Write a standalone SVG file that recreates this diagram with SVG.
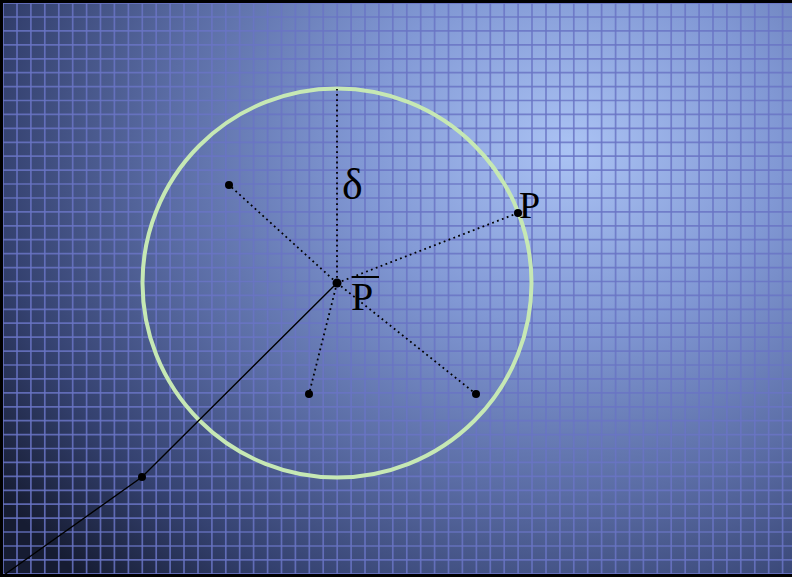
<svg xmlns="http://www.w3.org/2000/svg" width="792" height="577" viewBox="0 0 792 577">
  <defs>
    <radialGradient id="bg" gradientUnits="userSpaceOnUse" cx="570" cy="150" r="700" gradientTransform="translate(570 150) scale(1 0.85) translate(-570 -150)">
      <stop offset="0" stop-color="#abc3f4"/>
      <stop offset="0.3" stop-color="#8198d4"/>
      <stop offset="0.58" stop-color="#5a6ca4"/>
      <stop offset="0.82" stop-color="#34416f"/>
      <stop offset="1" stop-color="#161c32"/>
    </radialGradient>
    <style>
      .grid { stroke: #6a74c4; stroke-opacity: 0.85; stroke-width: 1.7; fill: none; }
      .dot { fill: #000; }
      .dotted { stroke: #000; stroke-width: 1.8; stroke-dasharray: 1.8 3.4; fill: none; }
      .solid { stroke: #000; stroke-width: 1.4; fill: none; }
      .lbl { font-family: "Liberation Serif", "Times New Roman", serif; fill: #000; }
    </style>
  </defs>

  <rect x="0" y="0" width="792" height="577" fill="url(#bg)"/>

  <path class="grid" d="M3.1 0V577M17 0V577M30.9 0V577M44.8 0V577M58.8 0V577M72.7 0V577M86.6 0V577M100.5 0V577M114.4 0V577M128.4 0V577M142.3 0V577M156.2 0V577M170.1 0V577M184 0V577M198 0V577M211.9 0V577M225.8 0V577M239.7 0V577M253.6 0V577M267.6 0V577M281.5 0V577M295.4 0V577M309.3 0V577M323.2 0V577M337.2 0V577M351.1 0V577M365 0V577M378.9 0V577M392.8 0V577M406.8 0V577M420.7 0V577M434.6 0V577M448.5 0V577M462.4 0V577M476.4 0V577M490.3 0V577M504.2 0V577M518.1 0V577M532 0V577M546 0V577M559.9 0V577M573.8 0V577M587.7 0V577M601.6 0V577M615.6 0V577M629.5 0V577M643.4 0V577M657.3 0V577M671.2 0V577M685.2 0V577M699.1 0V577M713 0V577M726.9 0V577M740.8 0V577M754.8 0V577M768.7 0V577M782.6 0V577"/>
  <path class="grid" d="M0 3.1H792M0 17H792M0 30.9H792M0 44.8H792M0 58.8H792M0 72.7H792M0 86.6H792M0 100.5H792M0 114.4H792M0 128.4H792M0 142.3H792M0 156.2H792M0 170.1H792M0 184H792M0 198H792M0 211.9H792M0 225.8H792M0 239.7H792M0 253.6H792M0 267.6H792M0 281.5H792M0 295.4H792M0 309.3H792M0 323.2H792M0 337.2H792M0 351.1H792M0 365H792M0 378.9H792M0 392.8H792M0 406.8H792M0 420.7H792M0 434.6H792M0 448.5H792M0 462.4H792M0 476.4H792M0 490.3H792M0 504.2H792M0 518.1H792M0 532H792M0 546H792M0 559.9H792M0 573.8H792"/>

  <path d="M0 1.5H792M1.5 0V577M0 575.5H792" stroke="#000" stroke-width="3" fill="none"/>

  <circle id="neighborhood" cx="337" cy="283" r="194.5" fill="none" stroke="#c6e8b4" stroke-width="4"/>

  <g id="connectors">
    <line class="dotted" x1="337" y1="283" x2="337" y2="89" stroke-width="2.6" stroke-dasharray="2.6 2.4"/>
    <line class="dotted" x1="337" y1="283" x2="229" y2="185"/>
    <line class="dotted" x1="337" y1="283" x2="518" y2="213"/>
    <line class="dotted" x1="337" y1="283" x2="309" y2="394"/>
    <line class="dotted" x1="337" y1="283" x2="476" y2="394"/>
    <polyline class="solid" points="4,575 142,477 337,283"/>
  </g>

  <g id="pbar">
    <circle class="dot" cx="337" cy="283" r="4.5"/>
    <text class="lbl" x="351" y="310" font-size="40">P</text>
    <line x1="352" y1="277" x2="379" y2="277" stroke="#000" stroke-width="2"/>
  </g>
  <g id="p">
    <circle class="dot" cx="518" cy="213" r="4"/>
    <text class="lbl" x="519" y="218" font-size="38">P</text>
  </g>
  <g id="p1"><circle class="dot" cx="229" cy="185" r="4"/></g>
  <g id="p2"><circle class="dot" cx="309" cy="394" r="4"/></g>
  <g id="p3"><circle class="dot" cx="476" cy="394" r="4"/></g>
  <g id="p4"><circle class="dot" cx="142" cy="477" r="4"/></g>
  <g id="delta">
    <text class="lbl" x="342" y="199" font-size="44">δ</text>
  </g>
</svg>
